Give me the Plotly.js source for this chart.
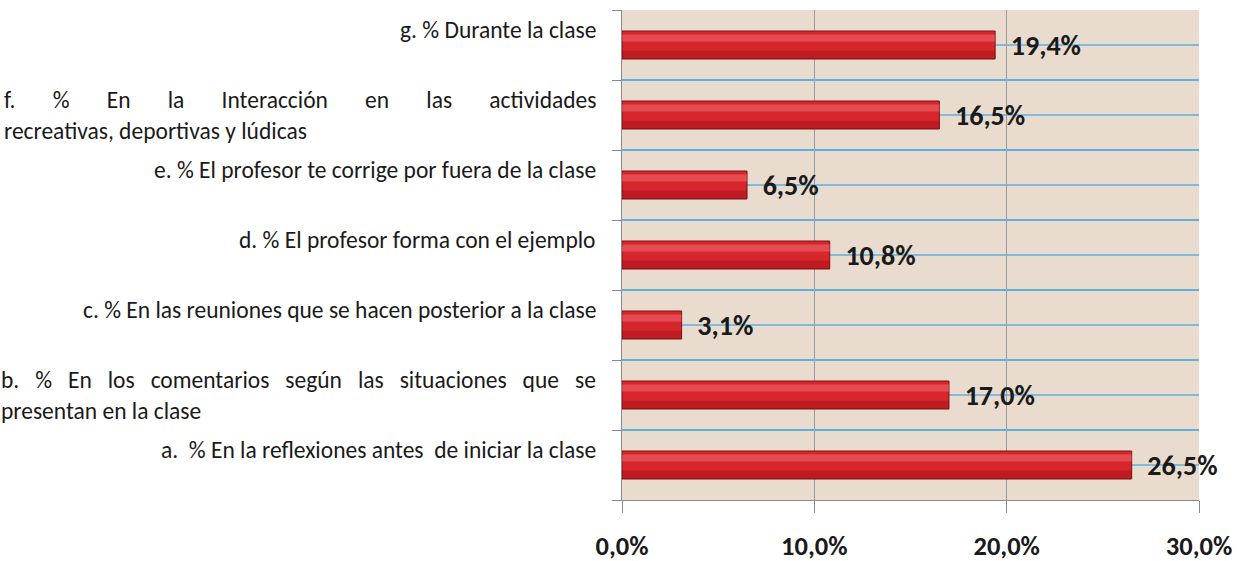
<!DOCTYPE html>
<html>
<head>
<meta charset="utf-8">
<script src="https://cdn.plot.ly/plotly-3.0.1.min.js"></script>
<style>html,body{margin:0;padding:0;background:#fff;}#chart{width:1238px;height:561px;}</style>
</head>
<body>
<div id="chart"></div>
<script>
// Categories (bottom to top)
const categories = ['a', 'b', 'c', 'd', 'e', 'f', 'g'];
const N3 = '\u00A0\u00A0\u00A0';
const N7 = '\u00A0\u00A0\u00A0\u00A0\u00A0\u00A0\u00A0';
const labels = [
  'a.  % En la reflexiones antes  de iniciar la clase',
  ['b.', '%', 'En', 'los', 'comentarios', 'según', 'las', 'situaciones', 'que', 'se'].join(N3) + '<br>presentan en la clase',
  'c. % En las reuniones que se hacen posterior a la clase',
  'd. % El profesor forma con el ejemplo',
  'e. % El profesor te corrige por fuera de la clase',
  ['f.', '%', 'En', 'la', 'Interacción', 'en', 'las', 'actividades'].join(N7) + '<br>recreativas, deportivas y lúdicas',
  'g. % Durante la clase'
];
const multiLine = [false, true, false, false, false, true, false];
const values = [26.5, 17.0, 3.1, 10.8, 6.5, 16.5, 19.4];
const xTicks = [0, 10, 20, 30];
const xTickText = ['0,0%', '10,0%', '20,0%', '30,0%'];

const FONT = "Carlito, 'Liberation Sans Narrow', 'Open Sans', sans-serif";

const traces = [
  {
    type: 'bar', orientation: 'h', y: categories, x: values,
    width: 0.4,
    marker: {color: '#d8262d', line: {color: '#7d1015', width: 1}},
    texttemplate: '\u00A0\u00A0%{x:.1f}%', textposition: 'outside', cliponaxis: false,
    constraintext: 'none',
    textfont: {family: FONT, size: 28, color: '#1a1a1a', weight: 'bold'},
    hoverinfo: 'skip', showlegend: false
  },
  {
    type: 'bar', orientation: 'h', y: categories, x: values,
    width: 0.1, offset: 0.05,
    marker: {color: 'rgba(255,150,150,0.35)', line: {width: 0}},
    hoverinfo: 'skip', showlegend: false
  },
  {
    type: 'bar', orientation: 'h', y: categories, x: values,
    width: 0.12, offset: -0.2,
    marker: {color: 'rgba(110,0,5,0.25)', line: {width: 0}},
    hoverinfo: 'skip', showlegend: false
  }
];

const shapes = categories.map(c => ({
  type: 'line', xref: 'paper', x0: 0, x1: 1, yref: 'y', y0: c, y1: c,
  line: {color: '#5fb0dc', width: 1.5}, layer: 'below'
}));

const annotations = categories.map((c, i) => ({
  xref: 'paper', x: 0, xanchor: 'right', xshift: -24,
  yref: 'y', y: c, yanchor: 'middle', yshift: multiLine[i] ? 0 : 15,
  text: labels[i], showarrow: false, align: multiLine[i] ? 'left' : 'right',
  font: {family: FONT, size: 23.5, color: '#1a1a1a'}
}));

const layout = {
  width: 1238, height: 561,
  margin: {l: 622, r: 39, t: 10, b: 61},
  paper_bgcolor: '#ffffff', plot_bgcolor: '#e9dccf',
  barmode: 'overlay', separators: ',.',
  showlegend: false,
  xaxis: {
    range: [0, 30], tickvals: xTicks, ticktext: xTickText,
    showgrid: true, gridcolor: '#9a9a9a', gridwidth: 1,
    zeroline: false, showline: true, linecolor: '#8a8a8a', linewidth: 1,
    ticks: 'outside', ticklen: 12, tickcolor: '#8a8a8a',
    ticklabelstandoff: 10,
    tickfont: {family: FONT, size: 26.5, color: '#1a1a1a', weight: 'bold'},
    fixedrange: true
  },
  yaxis: {
    type: 'category', categoryorder: 'array', categoryarray: categories,
    range: [-0.5, 6.5],
    tickson: 'boundaries', ticks: 'outside', ticklen: 9, tickcolor: '#8a8a8a',
    showticklabels: false,
    showgrid: true, gridcolor: '#5fb0dc', gridwidth: 1.5,
    showline: true, linecolor: '#8a8a8a', linewidth: 1,
    zeroline: false, fixedrange: true
  },
  shapes: shapes,
  annotations: annotations
};

Plotly.newPlot('chart', traces, layout, {displayModeBar: false, staticPlot: true});
</script>
</body>
</html>
